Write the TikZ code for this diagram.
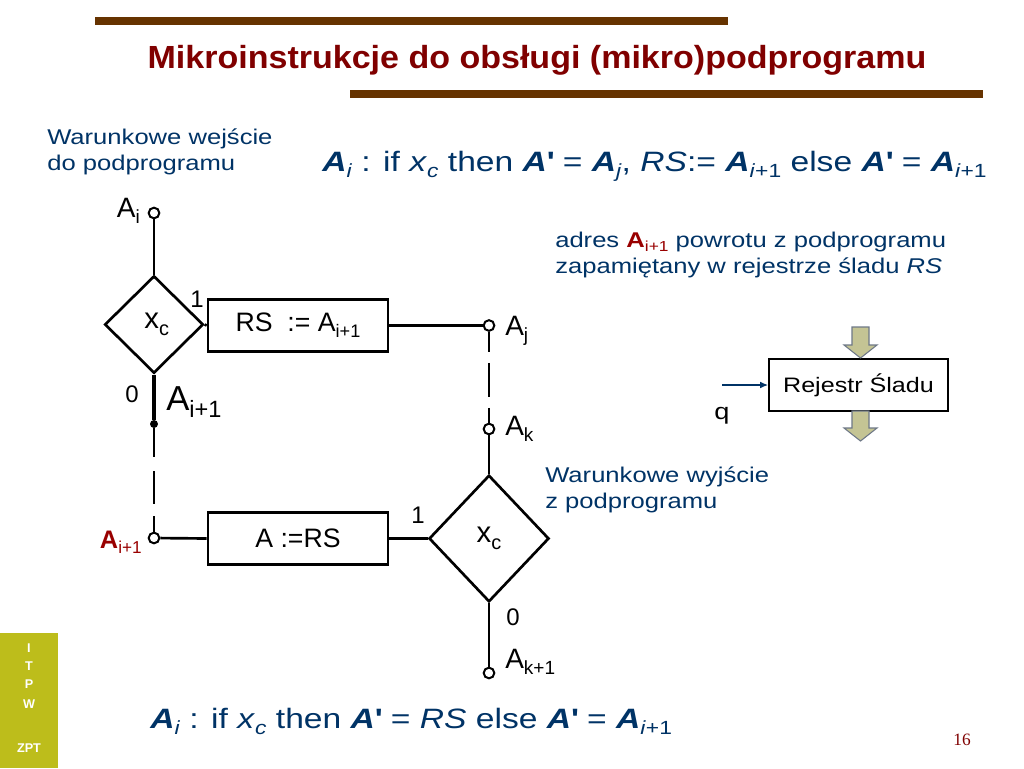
\documentclass[tikz,border=0pt]{standalone}
\usepackage{fontspec}
\usepackage{graphicx}
\setmainfont{Liberation Sans}
\newfontfamily\slidefont[FakeStretch=1.2]{Liberation Sans}
\newfontfamily\serifnum{Liberation Serif}
\usetikzlibrary{shapes.geometric,arrows.meta}
\definecolor{titlered}{RGB}{128,0,0}
\definecolor{barbrown}{RGB}{102,51,0}
\definecolor{navy}{RGB}{0,51,102}
\definecolor{adred}{RGB}{153,0,0}
\definecolor{olivebar}{RGB}{189,189,27}
\definecolor{khaki}{RGB}{196,196,148}
\definecolor{khakiline}{RGB}{110,120,135}
\newcommand{\bA}{\textbf{\textit{A}}}
\newcommand{\ssb}[1]{\raisebox{-0.22em}{\scalebox{0.68}{#1}}}
\newcommand{\apos}{\textbf{\textquotesingle}}
\begin{document}
\begin{tikzpicture}[x=0.75pt,y=-0.75pt,
  conn/.style={circle,draw,line width=1.5pt,fill=white,minimum size=8pt,inner sep=0pt},
  dotn/.style={circle,fill,minimum size=6pt,inner sep=0pt},
  opbox/.style={draw,line width=2pt,inner sep=0pt,minimum width=135pt,minimum height=39pt,font=\fontsize{20}{24}\selectfont},
  dia/.style={diamond,draw,line width=2pt,inner sep=0pt,font=\fontsize{22}{26}\selectfont},
  wire/.style={line width=2pt},
  lbl/.style={inner sep=0pt,anchor=base west,font=\fontsize{21}{25}\selectfont},
  num/.style={inner sep=0pt,anchor=base,font=\fontsize{18}{22}\selectfont},
  note/.style={inner sep=0pt,anchor=base west,align=left,text=navy,font=\slidefont\fontsize{16}{19.5}\selectfont},
  formula/.style={inner sep=0pt,anchor=base west,text=navy,font=\slidefont\fontsize{21}{25}\selectfont},
  bartext/.style={inner sep=0pt,text=white,font=\bfseries\fontsize{9.5}{11}\selectfont}
]
\useasboundingbox (0,0) rectangle (1024,768);
\fill[white] (0,0) rectangle (1024,768);

% title and bars
\fill[barbrown] (95,17) rectangle (728,25);
\fill[barbrown] (350,90) rectangle (983,98);
\node[inner sep=0pt,anchor=base,text=titlered] (title) at (537,68)
  {\resizebox{584pt}{\height}{\bfseries\fontsize{24}{28}\selectfont Mikroinstrukcje do obsługi (mikro)podprogramu}};

% left side bar
\fill[olivebar] (0,633) rectangle (58,768);
\node[bartext] (b1) at (29,648) {I};
\node[bartext] (b2) at (29,666) {T};
\node[bartext] (b3) at (29,684) {P};
\node[bartext] (b4) at (29,704) {W};
\node[bartext] (b5) at (29,748) {ZPT};

% notes (anchor = baseline of the last line)
\node[note] (n1) at (47,170) {Warunkowe wejście\\do podprogramu};
\node[note] (n2) at (545,508) {Warunkowe wyjście\\z podprogramu};
\node[note] (n3) at (555,273) {adres {\color{adred}\textbf{A}\ssb{i+1}} powrotu z podprogramu\\zapamiętany w rejestrze śladu \textit{RS}};

% formulas
\node[formula] (f1) at (322,171) {\bA\ssb{\textit{i}} : if \textit{x}\ssb{\textit{c}} then \bA\apos{} = \bA\ssb{\textit{j}}, \textit{RS}:= \bA\ssb{\textit{i}+1} else \bA\apos{} = \bA\ssb{\textit{i}+1}};
\node[formula] (f2) at (150,728) {\bA\ssb{\textit{i}} : if \textit{x}\ssb{\textit{c}} then \bA\apos{} = \textit{RS} else \bA\apos{} = \bA\ssb{\textit{i}+1}};
\node[inner sep=0pt,anchor=base,text=titlered,font=\serifnum\fontsize{13}{15}\selectfont] (pg) at (962,745) {16};

% diagram: upper part
\node[conn] (ai) at (154,213) {};
\node[lbl,anchor=base east] (lai) at (140,217) {A\ssb{i}};
\node[dia,minimum width=74pt,minimum height=73pt] (d1) at (154,324.5) {\hspace{4pt}\raisebox{-5pt}{x\ssb{c}}};
\node[num] (one1) at (197,307) {1};
\node[num] (zero1) at (132,402) {0};
\node[opbox] (rs) at (298,325.5) {RS\ \ := A\ssb{i+1}};
\node[conn] (aj) at (489,325.5) {};
\node[lbl] (laj) at (505,335) {A\ssb{j}};
\node[dotn] (dot) at (154,424) {};
\node[lbl,font=\fontsize{26}{30}\selectfont] (lai1) at (166,410) {A\ssb{i+1}};

% diagram: lower part
\node[conn] (ai1) at (154,538) {};
\node[lbl,anchor=base east,text=adred,font=\fontsize{19}{23}\selectfont] (lai1b) at (142,548) {\textbf{A}\ssb{i+1}};
\node[opbox] (ars) at (298,538.5) {A :=RS};
\node[dia,minimum width=90pt,minimum height=95pt] (d2) at (489,538.5) {\raisebox{-5pt}{x\ssb{c}}};
\node[num] (one2) at (418,523) {1};
\node[num] (zero2) at (513,625) {0};
\node[conn] (ak) at (489,429) {};
\node[lbl] (lak) at (505,435) {A\ssb{k}};
\node[conn] (ak1) at (489,673) {};
\node[lbl] (lak1) at (505,668) {A\ssb{k+1}};

% connectors
\draw[wire] (ai) -- (d1.north);
\draw[wire] (d1.east) -- (rs.west);
\draw[wire] (rs.east) -- (aj);
\draw[line width=3pt] (d1.south) -- (dot);
\draw[wire,dash pattern=on 21.75pt off 10.5pt on 24.75pt off 9pt on 20pt] (dot) -- (ai1.north);
\draw[wire,dash pattern=on 15pt off 8.25pt on 25.5pt off 8.25pt on 14pt] (aj.south) -- (ak.north);
\draw[wire] (ai1) -- (ars.west);
\draw[wire] (ars.east) -- (d2.west);
\draw[wire] (ak) -- (d2.north);
\draw[wire] (d2.south) -- (ak1);

% register
\node[draw,line width=1.5pt,inner sep=0pt,minimum width=134pt,minimum height=39.5pt,font=\slidefont\fontsize{15.7}{19}\selectfont] (rej) at (858.5,385) {Rejestr Śladu};
\coordinate (qs) at (722,385);
\draw[navy,line width=1pt,-{Latex[length=6pt,width=5pt]}] (qs) -- (rej.west);
\node[inner sep=0pt,anchor=base,font=\slidefont\fontsize{17}{20}\selectfont] (q) at (722,419) {q};
\filldraw[fill=khaki,draw=khakiline,line width=0.8pt]
  (852,327) -- (869,327) -- (869,345) -- (877,345) -- (860.5,358) -- (844,345) -- (852,345) -- cycle;
\filldraw[fill=khaki,draw=khakiline,line width=0.8pt]
  (852,411) -- (869,411) -- (869,428) -- (877,428) -- (860.5,441) -- (844,428) -- (852,428) -- cycle;
\end{tikzpicture}
\end{document}
